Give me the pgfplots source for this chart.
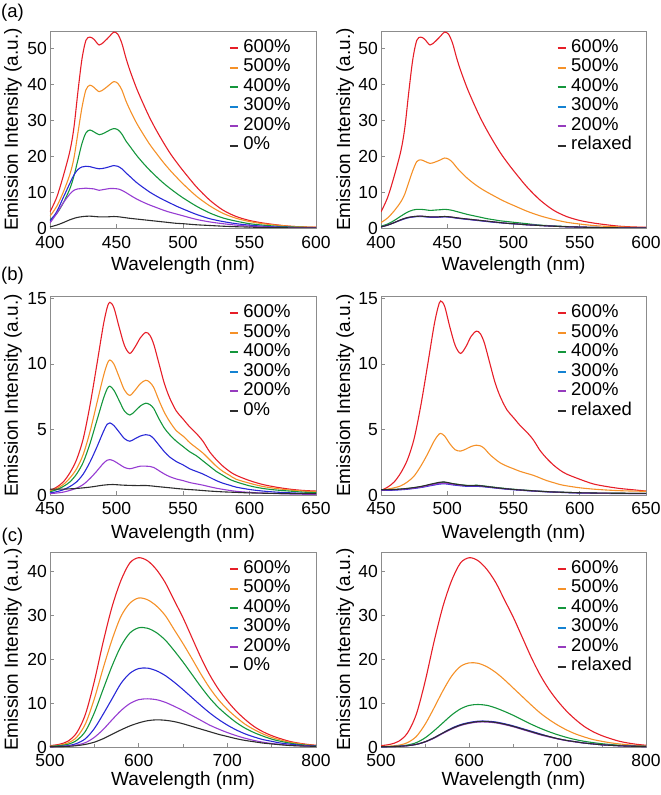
\documentclass[border=0pt]{standalone}
\usepackage{fontspec}
\setmainfont{Liberation Sans}
\usepackage{pgfplots}
\pgfplotsset{compat=1.18}
\definecolor{cR}{RGB}{230,30,40}
\definecolor{cO}{RGB}{245,145,40}
\definecolor{cG}{RGB}{20,150,60}
\definecolor{cB}{RGB}{40,40,215}
\definecolor{cBl}{RGB}{20,130,210}
\definecolor{cP}{RGB}{150,60,210}
\definecolor{cPl}{RGB}{150,60,190}
\definecolor{cK}{RGB}{45,45,45}
\definecolor{cAx}{RGB}{140,140,140}
\pgfplotsset{
 panel/.style={
  scale only axis, width=266pt,
  axis line style={cAx, line width=0.8pt},
  tick style={cAx, line width=0.6pt},
  major tick length=4pt, minor tick length=3pt,
  tick align=inside, xtick pos=lower, ytick pos=left,
  /pgf/number format/assume math mode=true,
  ticklabel style={font=\fontsize{17.5}{17.5}\selectfont},
  yticklabel style={inner sep=0pt, anchor=east, xshift=-3pt},
  label style={font=\fontsize{19}{19}\selectfont},
  ylabel={Emission Intensity (a.u.)},
  xlabel={Wavelength (nm)},
  ylabel style={at={(axis description cs:-0.139,0.5)}, anchor=center},
  ymin=0,
  legend style={draw=none, fill=none, inner sep=0pt, outer sep=0pt,
    at={(0.672,0.957)}, anchor=north west,
    font=\fontsize{18.5}{18.5}\selectfont,
    nodes={inner sep=1pt, text height=12pt, text depth=3.5pt},
    row sep=2pt,
    /tikz/every odd column/.append style={column sep=3.5pt}},
  legend cell align=left,
  legend image code/.code={\draw[##1, line width=2pt] (0pt,0pt) -- (8pt,0pt);},
  every axis plot/.append style={line width=1.1pt, smooth, tension=0.5, forget plot},
 },
 rowa/.style={height=197pt, xmin=400, xmax=600, ymax=54.9, xtick={400,450,...,600}, ytick={0,10,...,50},
  xticklabel style={anchor=base, inner sep=0pt, yshift=-21pt},
  xlabel style={at={(axis description cs:0.5,-0.216)}, anchor=base}},
 rowb/.style={height=199pt, xmin=450, xmax=650, ymax=15.18, xtick={450,500,...,650}, ytick={0,5,10,15},
  xticklabel style={anchor=base, inner sep=0pt, yshift=-19.5pt},
  xlabel style={at={(axis description cs:0.5,-0.219)}, anchor=base}},
 rowc/.style={height=195pt, xmin=500, xmax=800, ymax=44.5, xtick={500,600,700,800}, minor xtick={550,650,750}, ytick={0,10,...,40},
  xticklabel style={anchor=base, inner sep=0pt, yshift=-19.5pt},
  xlabel style={at={(axis description cs:0.5,-0.197)}, anchor=base}},
 rightp/.style={width=265pt, ylabel style={at={(axis description cs:-0.135,0.5)}}, legend style={at={(0.663,0.957)}}},
}
\newcommand{\legs}[1]{%
 \addlegendimage{cR}\addlegendentry{600\%}
 \addlegendimage{cO}\addlegendentry{500\%}
 \addlegendimage{cG}\addlegendentry{400\%}
 \addlegendimage{cBl}\addlegendentry{300\%}
 \addlegendimage{cPl}\addlegendentry{200\%}
 \addlegendimage{cK}\addlegendentry{#1}}
\begin{document}
\begin{tikzpicture}
\useasboundingbox (0,0) rectangle (661pt,795pt);
\node[font=\fontsize{18.5}{18.5}\selectfont] at (12.5pt,782.5pt) {(a)};
\node[font=\fontsize{18.5}{18.5}\selectfont] at (12.5pt,519pt) {(b)};
\node[font=\fontsize{18.5}{18.5}\selectfont] at (12.5pt,258pt) {(c)};
% ---------------- (a) left
\begin{axis}[panel, rowa, at={(50pt,567pt)}, anchor=south west]
\addplot[cR] coordinates {(400,4.5)(405,8.5)(410,14.5)(415,21.5)(418,28)(421,38)(424,47)(427,52.3)(430,53.2)(433,52.6)(437,51)(441,52)(445,53.5)(448,54.6)(451,54)(454,51.5)(457,47.5)(460,44)(465,39)(470,34.7)(475,30.7)(480,27.2)(485,24)(490,21)(495,18.4)(500,16)(510,11.5)(520,7.8)(530,5)(540,3.2)(550,2.1)(560,1.4)(570,0.9)(580,0.5)(590,0.3)(600,0.2)};
\addplot[cO] coordinates {(400,3.3)(405,6)(410,10)(415,15)(418,19.5)(421,26.5)(424,33.5)(427,38.5)(430,39.8)(433,39.2)(437,38)(441,38.8)(445,40)(448,40.8)(451,40.3)(454,38.5)(457,35.5)(460,33)(465,29.3)(470,26.2)(475,23.3)(480,20.8)(485,18.4)(490,16.2)(495,14.2)(500,12.3)(510,8.9)(520,6.2)(530,4.1)(540,2.7)(550,1.8)(560,1.2)(570,0.8)(580,0.5)(590,0.3)(600,0.2)};
\addplot[cG] coordinates {(400,2.3)(405,4)(410,7)(415,11)(418,14.5)(421,19)(424,23.5)(427,26.5)(430,27.3)(433,26.8)(437,26)(441,26.5)(445,27.3)(448,27.7)(451,27.4)(454,26.2)(457,24.3)(460,22.8)(465,20.3)(470,18.1)(475,16.1)(480,14.3)(485,12.6)(490,11.1)(495,9.7)(500,8.4)(510,6.1)(520,4.2)(530,2.8)(540,1.9)(550,1.2)(560,0.8)(570,0.5)(580,0.3)(590,0.2)(600,0.1)};
\addplot[cB] coordinates {(400,1.9)(405,4.5)(410,8.5)(415,12.5)(418,14.8)(421,16.3)(424,17)(427,17.2)(430,17.1)(433,16.8)(437,16.5)(441,16.7)(445,17.1)(448,17.4)(451,17.2)(454,16.5)(457,15.4)(460,14.4)(465,12.7)(470,11.3)(475,10)(480,8.9)(485,7.9)(490,7)(495,6.1)(500,5.3)(510,3.8)(520,2.6)(530,1.8)(540,1.2)(550,0.8)(560,0.5)(570,0.3)(580,0.2)(590,0.1)(600,0.1)};
\addplot[cP] coordinates {(400,1.4)(405,4)(410,7)(415,9.5)(418,10.5)(421,10.9)(424,11)(427,11.1)(430,11)(433,10.9)(437,10.5)(440,10.7)(445,11)(448,11)(451,10.9)(454,10.5)(457,9.9)(460,9.2)(465,8.1)(470,7.2)(475,6.4)(480,5.7)(485,5)(490,4.4)(495,3.9)(500,3.4)(510,2.4)(520,1.7)(530,1.2)(540,0.8)(550,0.5)(560,0.3)(570,0.2)(580,0.1)(590,0.1)(600,0.1)};
\addplot[cK] coordinates {(400,0.3)(405,0.8)(410,1.5)(415,2.3)(420,2.9)(425,3.2)(430,3.3)(437,3.1)(443,3.1)(448,3.2)(452,3.1)(456,2.9)(460,2.7)(465,2.5)(470,2.3)(475,2.1)(480,1.9)(485,1.7)(490,1.5)(495,1.3)(500,1.2)(510,0.9)(520,0.7)(530,0.5)(540,0.35)(550,0.25)(560,0.15)(570,0.1)(580,0.05)(590,0.05)(600,0)};
\legs{0\%}
\end{axis}
% ---------------- (a) right
\begin{axis}[panel, rowa, rightp, at={(381pt,567pt)}, anchor=south west]
\addplot[cR] coordinates {(400,4.5)(405,8.5)(410,14.5)(415,21.5)(418,28)(421,38)(424,47)(427,52.3)(430,53.2)(433,52.6)(437,51)(441,52)(445,53.5)(448,54.6)(451,54)(454,51.5)(457,47.5)(460,44)(465,39)(470,34.7)(475,30.7)(480,27.2)(485,24)(490,21)(495,18.4)(500,16)(510,11.5)(520,7.8)(530,5)(540,3.2)(550,2.1)(560,1.4)(570,0.9)(580,0.5)(590,0.3)(600,0.2)};
\addplot[cO] coordinates {(400,1.5)(405,2.8)(410,4.8)(415,7.3)(418,9.5)(421,12.8)(424,16)(427,18.5)(430,19)(433,18.6)(437,18)(441,18.4)(445,19)(448,19.5)(451,19.2)(454,18.3)(457,16.9)(460,15.7)(465,13.9)(470,12.4)(475,11.1)(480,10)(485,9)(490,8)(495,7.1)(500,6.3)(510,4.7)(520,3.4)(530,2.4)(540,1.6)(550,1.1)(560,0.7)(570,0.45)(580,0.3)(590,0.2)(600,0.1)};
\addplot[cG] coordinates {(400,0.5)(405,1.1)(410,2.1)(415,3.3)(418,4)(421,4.6)(424,5)(427,5.2)(430,5.2)(433,5.1)(437,4.9)(441,5)(445,5.1)(448,5.2)(451,5.1)(454,4.9)(457,4.6)(460,4.3)(465,3.8)(470,3.4)(475,3)(480,2.6)(485,2.3)(490,2)(495,1.8)(500,1.6)(510,1.2)(520,0.8)(530,0.6)(540,0.4)(550,0.25)(560,0.15)(570,0.1)(580,0.05)(590,0.05)(600,0)};
\addplot[cB] coordinates {(400,0.3)(405,0.8)(410,1.5)(415,2.2)(420,2.8)(425,3.1)(430,3.2)(437,3)(443,3)(448,3.1)(452,3)(456,2.8)(460,2.6)(465,2.4)(470,2.2)(475,2)(480,1.8)(485,1.6)(490,1.45)(495,1.3)(500,1.15)(510,0.9)(520,0.7)(530,0.5)(540,0.35)(550,0.25)(560,0.15)(570,0.1)(580,0.05)(590,0.05)(600,0)};
\addplot[cP] coordinates {(400,0.3)(405,0.8)(410,1.5)(415,2.3)(420,2.9)(425,3.2)(430,3.3)(437,3.1)(443,3.1)(448,3.2)(452,3.1)(456,2.9)(460,2.7)(465,2.5)(470,2.3)(475,2.1)(480,1.9)(485,1.7)(490,1.5)(495,1.3)(500,1.2)(510,0.9)(520,0.7)(530,0.5)(540,0.35)(550,0.25)(560,0.15)(570,0.1)(580,0.05)(590,0.05)(600,0)};
\addplot[cK] coordinates {(400,0.3)(405,0.8)(410,1.5)(415,2.3)(420,2.9)(425,3.2)(430,3.3)(437,3.1)(443,3.1)(448,3.2)(452,3.1)(456,2.9)(460,2.7)(465,2.5)(470,2.3)(475,2.1)(480,1.9)(485,1.7)(490,1.5)(495,1.3)(500,1.2)(510,0.9)(520,0.7)(530,0.5)(540,0.35)(550,0.25)(560,0.15)(570,0.1)(580,0.05)(590,0.05)(600,0)};
\legs{relaxed}
\end{axis}
% ---------------- (b) left
\begin{axis}[panel, rowb, at={(50pt,300pt)}, anchor=south west]
\addplot[cR] coordinates {(450,0.35)(455,0.6)(460,1)(465,1.7)(470,2.7)(475,4.3)(480,6.8)(485,9.8)(490,12.9)(493,14.3)(495,14.7)(498,14.3)(502,12.8)(506,11.4)(510,10.8)(514,11.3)(518,12)(522,12.4)(525,12.2)(528,11.5)(532,10)(536,8.5)(540,7.4)(545,6.4)(550,5.8)(555,5.2)(560,4.7)(565,4.1)(570,3.3)(575,2.7)(580,2.2)(585,1.8)(590,1.5)(600,1.1)(610,0.8)(620,0.6)(630,0.45)(640,0.35)(650,0.3)};
\addplot[cO] coordinates {(450,0.3)(455,0.5)(460,0.8)(465,1.3)(470,2)(475,3.1)(480,4.8)(485,6.9)(490,9)(493,10)(495,10.3)(498,10)(502,9)(506,8)(510,7.6)(514,8)(518,8.5)(522,8.75)(525,8.6)(528,8.2)(532,7.2)(536,6.3)(540,5.6)(545,4.9)(550,4.5)(555,4)(560,3.6)(565,3.2)(570,2.7)(575,2.2)(580,1.8)(585,1.5)(590,1.2)(600,0.9)(610,0.65)(620,0.5)(630,0.38)(640,0.3)(650,0.25)};
\addplot[cG] coordinates {(450,0.25)(455,0.4)(460,0.65)(465,1)(470,1.6)(475,2.5)(480,3.9)(485,5.6)(490,7.3)(493,8.1)(495,8.3)(498,8)(502,7.2)(506,6.4)(510,6.1)(514,6.4)(518,6.8)(522,7)(525,6.9)(528,6.6)(532,5.8)(536,5.1)(540,4.6)(545,4.1)(550,3.7)(555,3.3)(560,3)(565,2.6)(570,2.2)(575,1.8)(580,1.5)(585,1.2)(590,1)(600,0.7)(610,0.5)(620,0.38)(630,0.3)(640,0.22)(650,0.18)};
\addplot[cB] coordinates {(450,0.15)(455,0.25)(460,0.4)(465,0.65)(470,1)(475,1.6)(480,2.5)(485,3.6)(490,4.8)(493,5.4)(495,5.5)(498,5.3)(502,4.8)(506,4.3)(510,4.1)(514,4.3)(518,4.5)(522,4.6)(525,4.55)(528,4.3)(532,3.8)(536,3.3)(540,2.9)(545,2.55)(550,2.3)(555,2)(560,1.8)(565,1.6)(570,1.35)(575,1.1)(580,0.9)(585,0.75)(590,0.6)(600,0.42)(610,0.3)(620,0.22)(630,0.17)(640,0.13)(650,0.1)};
\addplot[cP] coordinates {(450,0.1)(455,0.15)(460,0.22)(465,0.35)(470,0.52)(475,0.8)(480,1.25)(485,1.8)(490,2.4)(493,2.65)(495,2.7)(498,2.6)(502,2.35)(506,2.1)(510,2)(514,2.1)(518,2.2)(522,2.2)(525,2.18)(528,2.1)(532,1.85)(536,1.6)(540,1.4)(545,1.22)(550,1.1)(555,0.95)(560,0.85)(565,0.75)(570,0.63)(575,0.52)(580,0.43)(585,0.35)(590,0.28)(600,0.2)(610,0.15)(620,0.11)(630,0.08)(640,0.06)(650,0.05)};
\addplot[cK] coordinates {(450,0.45)(460,0.45)(470,0.5)(480,0.6)(490,0.75)(497,0.8)(505,0.75)(515,0.72)(523,0.72)(530,0.65)(540,0.55)(550,0.45)(560,0.38)(570,0.3)(580,0.24)(590,0.2)(600,0.16)(620,0.12)(650,0.1)};
\legs{0\%}
\end{axis}
% ---------------- (b) right
\begin{axis}[panel, rowb, rightp, at={(381pt,300pt)}, anchor=south west]
\addplot[cR] coordinates {(450,0.35)(455,0.6)(460,1)(465,1.7)(470,2.7)(475,4.3)(480,6.8)(485,9.8)(490,12.9)(493,14.3)(495,14.8)(498,14.4)(502,12.8)(506,11.4)(510,10.8)(514,11.3)(518,12.1)(522,12.5)(525,12.3)(528,11.6)(532,10.1)(536,8.6)(540,7.5)(545,6.5)(550,5.9)(555,5.3)(560,4.8)(565,4.2)(570,3.4)(575,2.8)(580,2.3)(585,1.9)(590,1.6)(600,1.2)(610,0.85)(620,0.65)(630,0.5)(640,0.4)(650,0.3)};
\addplot[cO] coordinates {(450,0.4)(455,0.45)(460,0.55)(465,0.7)(470,1)(475,1.45)(480,2.2)(485,3.1)(490,4.1)(493,4.55)(495,4.7)(498,4.5)(502,3.9)(506,3.45)(510,3.35)(514,3.5)(518,3.7)(522,3.8)(525,3.75)(528,3.55)(532,3.1)(536,2.75)(540,2.45)(545,2.2)(550,2)(555,1.8)(560,1.65)(565,1.5)(570,1.3)(575,1.1)(580,0.95)(585,0.8)(590,0.7)(600,0.55)(610,0.45)(620,0.38)(630,0.33)(640,0.3)(650,0.28)};
\addplot[cG] coordinates {(450,0.4)(460,0.42)(470,0.5)(480,0.63)(490,0.85)(497,0.97)(505,0.85)(515,0.73)(523,0.74)(530,0.66)(540,0.54)(550,0.44)(560,0.36)(570,0.29)(580,0.24)(590,0.2)(600,0.17)(620,0.14)(650,0.12)};
\addplot[cB] coordinates {(450,0.35)(460,0.37)(470,0.44)(480,0.57)(490,0.76)(497,0.86)(505,0.76)(515,0.66)(523,0.66)(530,0.6)(540,0.49)(550,0.4)(560,0.33)(570,0.27)(580,0.22)(590,0.18)(600,0.15)(620,0.12)(650,0.1)};
\addplot[cP] coordinates {(450,0.38)(460,0.4)(470,0.47)(480,0.6)(490,0.8)(497,0.9)(505,0.8)(515,0.7)(523,0.7)(530,0.63)(540,0.51)(550,0.42)(560,0.34)(570,0.28)(580,0.23)(590,0.19)(600,0.16)(620,0.13)(650,0.11)};
\addplot[cK] coordinates {(450,0.4)(460,0.42)(470,0.5)(480,0.65)(490,0.88)(497,1)(505,0.85)(515,0.72)(523,0.72)(530,0.64)(540,0.52)(550,0.42)(560,0.35)(570,0.28)(580,0.23)(590,0.2)(600,0.17)(620,0.14)(650,0.12)};
\legs{relaxed}
\end{axis}
% ---------------- (c) left
\begin{axis}[panel, rowc, at={(50pt,48pt)}, anchor=south west]
\addplot[cR] coordinates {(500,0.3)(510,0.6)(520,1.3)(530,3.2)(540,7.5)(550,15)(560,24)(570,32)(580,38)(590,42)(600,43.2)(610,42.5)(620,40.5)(630,37.5)(640,33.5)(650,29.5)(660,25)(670,20.5)(680,16.5)(690,13.2)(700,10.5)(710,8.2)(720,6.3)(730,4.7)(740,3.5)(750,2.6)(760,1.9)(770,1.3)(780,0.9)(790,0.6)(800,0.4)};
\addplot[cO] coordinates {(500,0.2)(510,0.4)(520,0.9)(530,2.2)(540,5.3)(550,11)(560,18)(570,24.5)(580,29.8)(590,32.8)(600,34)(610,33.6)(620,32.2)(630,30)(640,26.8)(650,23.6)(660,20.2)(670,16.7)(680,13.5)(690,10.8)(700,8.6)(710,6.8)(720,5.2)(730,4)(740,3)(750,2.2)(760,1.6)(770,1.1)(780,0.8)(790,0.5)(800,0.35)};
\addplot[cG] coordinates {(500,0.15)(510,0.3)(520,0.6)(530,1.5)(540,3.6)(550,7.8)(560,13.2)(570,18.5)(580,23)(590,26)(600,27.2)(610,27.1)(620,26.1)(630,24.4)(640,22)(650,19.4)(660,16.6)(670,13.8)(680,11.2)(690,9)(700,7.2)(710,5.6)(720,4.3)(730,3.3)(740,2.5)(750,1.8)(760,1.3)(770,0.9)(780,0.6)(790,0.4)(800,0.3)};
\addplot[cB] coordinates {(500,0.1)(510,0.15)(520,0.3)(530,0.8)(540,1.9)(550,4.2)(560,7.5)(570,11)(580,14.5)(590,16.8)(600,17.9)(610,18)(620,17.4)(630,16.3)(640,14.8)(650,13.1)(660,11.3)(670,9.5)(680,7.8)(690,6.3)(700,5)(710,3.9)(720,3)(730,2.3)(740,1.7)(750,1.3)(760,0.9)(770,0.65)(780,0.45)(790,0.3)(800,0.2)};
\addplot[cP] coordinates {(500,0.05)(510,0.1)(520,0.2)(530,0.45)(540,1)(550,2.2)(560,4)(570,6.2)(580,8.3)(590,9.9)(600,10.8)(610,11)(620,10.8)(630,10.2)(640,9.3)(650,8.3)(660,7.2)(670,6.1)(680,5)(690,4.1)(700,3.3)(710,2.6)(720,2)(730,1.5)(740,1.1)(750,0.8)(760,0.6)(770,0.4)(780,0.3)(790,0.2)(800,0.15)};
\addplot[cK] coordinates {(500,0.05)(510,0.1)(520,0.15)(530,0.3)(540,0.6)(550,1.1)(560,1.9)(570,2.9)(580,3.9)(590,4.8)(600,5.5)(610,6)(620,6.2)(630,6.1)(640,5.8)(650,5.3)(660,4.7)(670,4.1)(680,3.5)(690,2.9)(700,2.4)(710,1.9)(720,1.5)(730,1.2)(740,0.9)(750,0.7)(760,0.5)(770,0.35)(780,0.25)(790,0.2)(800,0.15)};
\legs{0\%}
\end{axis}
% ---------------- (c) right
\begin{axis}[panel, rowc, rightp, at={(381pt,48pt)}, anchor=south west]
\addplot[cR] coordinates {(500,0.3)(510,0.6)(520,1.3)(530,3.2)(540,7.5)(550,15)(560,24)(570,32)(580,38)(590,42)(600,43.2)(610,42.5)(620,40.5)(630,37.5)(640,33.5)(650,29.5)(660,25)(670,20.5)(680,16.5)(690,13.2)(700,10.5)(710,8.2)(720,6.3)(730,4.7)(740,3.5)(750,2.6)(760,1.9)(770,1.3)(780,0.9)(790,0.6)(800,0.4)};
\addplot[cO] coordinates {(500,0.1)(510,0.2)(520,0.4)(530,1)(540,2.4)(550,5.2)(560,8.9)(570,12.8)(580,16.2)(590,18.4)(600,19.2)(610,19.1)(620,18.3)(630,17)(640,15.3)(650,13.4)(660,11.5)(670,9.6)(680,7.8)(690,6.3)(700,5)(710,3.9)(720,3)(730,2.3)(740,1.7)(750,1.3)(760,0.95)(770,0.7)(780,0.5)(790,0.35)(800,0.25)};
\addplot[cG] coordinates {(500,0.05)(510,0.1)(520,0.2)(530,0.45)(540,1)(550,2.1)(560,3.7)(570,5.5)(580,7.3)(590,8.7)(600,9.5)(610,9.7)(620,9.5)(630,8.9)(640,8.1)(650,7.2)(660,6.2)(670,5.2)(680,4.3)(690,3.5)(700,2.8)(710,2.2)(720,1.7)(730,1.3)(740,1)(750,0.75)(760,0.55)(770,0.4)(780,0.3)(790,0.2)(800,0.15)};
\addplot[cB] coordinates {(500,0.05)(510,0.08)(520,0.15)(530,0.3)(540,0.6)(550,1.2)(560,2.1)(570,3.2)(580,4.3)(590,5.1)(600,5.6)(610,5.9)(620,5.9)(630,5.7)(640,5.3)(650,4.8)(660,4.2)(670,3.6)(680,3)(690,2.4)(700,1.9)(710,1.5)(720,1.2)(730,0.9)(740,0.7)(750,0.5)(760,0.38)(770,0.28)(780,0.2)(790,0.15)(800,0.1)};
\addplot[cP] coordinates {(500,0.05)(510,0.08)(520,0.15)(530,0.3)(540,0.6)(550,1.15)(560,2)(570,3.1)(580,4.1)(590,4.9)(600,5.4)(610,5.7)(620,5.7)(630,5.5)(640,5.1)(650,4.6)(660,4)(670,3.4)(680,2.8)(690,2.3)(700,1.85)(710,1.45)(720,1.15)(730,0.9)(740,0.7)(750,0.5)(760,0.38)(770,0.28)(780,0.2)(790,0.15)(800,0.1)};
\addplot[cK] coordinates {(500,0.05)(510,0.08)(520,0.15)(530,0.3)(540,0.6)(550,1.2)(560,2.1)(570,3.2)(580,4.2)(590,5)(600,5.5)(610,5.8)(620,5.8)(630,5.6)(640,5.2)(650,4.7)(660,4.1)(670,3.5)(680,2.9)(690,2.4)(700,1.9)(710,1.5)(720,1.2)(730,0.9)(740,0.7)(750,0.5)(760,0.38)(770,0.28)(780,0.2)(790,0.15)(800,0.1)};
\legs{relaxed}
\end{axis}
\end{tikzpicture}
\end{document}
